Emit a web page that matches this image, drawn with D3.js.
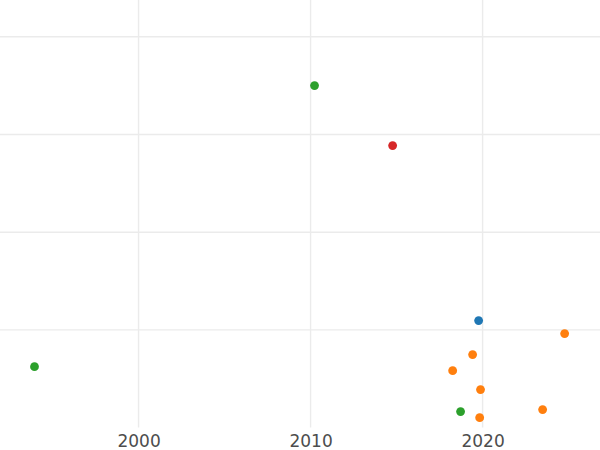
<!DOCTYPE html>
<html>
<head>
<meta charset="utf-8">
<script src="https://cdn.jsdelivr.net/npm/d3@7/dist/d3.min.js"></script>
<style>
html,body{margin:0;padding:0;background:#fff;}
svg{display:block;}
</style>
</head>
<body>
<svg id="chart" width="600" height="450"></svg>
<script>
const years  = [2010.23, 2014.77, 2019.77, 2024.77, 2019.42, 2018.26, 2019.88, 2023.49, 2019.83, 2018.72, 1993.95];
const values = [3.50, 2.886, 1.095, 0.962, 0.747, 0.583, 0.389, 0.184, 0.102, 0.164, 0.624];
const groups = ["C", "D", "A", "B", "B", "B", "B", "B", "B", "C", "C"];
const groupNames = ["A", "B", "C", "D"];
const groupColors = ["#1f77b4", "#ff7f0e", "#2ca02c", "#d62728"];
const xTicks = [2000, 2010, 2020];
const yTicks = [1, 2, 3, 4];

const svg = d3.select("#chart");
const W = 600, H = 450;
const plotBottom = 427.6;

const x = d3.scaleLinear().domain([1991.98, 2026.86]).range([0.6, W + 0.6]);
const y = d3.scaleLinear().domain([0, 4.37]).range([plotBottom, 0.6]);
const color = d3.scaleOrdinal().domain(groupNames).range(groupColors);

const grid = svg.append("g");
grid.selectAll("line.v").data(xTicks).join("line")
  .attr("class", "v")
  .attr("x1", d => x(d)).attr("x2", d => x(d))
  .attr("y1", 0).attr("y2", plotBottom)
  .attr("stroke", "#ebebeb").attr("stroke-width", 1.4);
grid.selectAll("line.h").data(yTicks).join("line")
  .attr("class", "h")
  .attr("x1", 0).attr("x2", W)
  .attr("y1", d => y(d)).attr("y2", d => y(d))
  .attr("stroke", "#ebebeb").attr("stroke-width", 1.4);

const xAxis = d3.axisBottom(x).tickValues(xTicks).tickFormat(d3.format("d")).tickSize(0).tickPadding(7);
const ax = svg.append("g").attr("transform", `translate(0,${plotBottom})`).call(xAxis);
ax.select(".domain").remove();
ax.selectAll("text")
  .attr("font-family", "DejaVu Sans, sans-serif")
  .attr("font-size", 17)
  .attr("fill", "#4d4d4d");

const data = years.map((yr, i) => ({yr, v: values[i], g: groups[i]}));
svg.append("g").selectAll("circle").data(data).join("circle")
  .attr("cx", d => x(d.yr))
  .attr("cy", d => y(d.v))
  .attr("r", 4.4)
  .attr("fill", d => color(d.g));
</script>
</body>
</html>
